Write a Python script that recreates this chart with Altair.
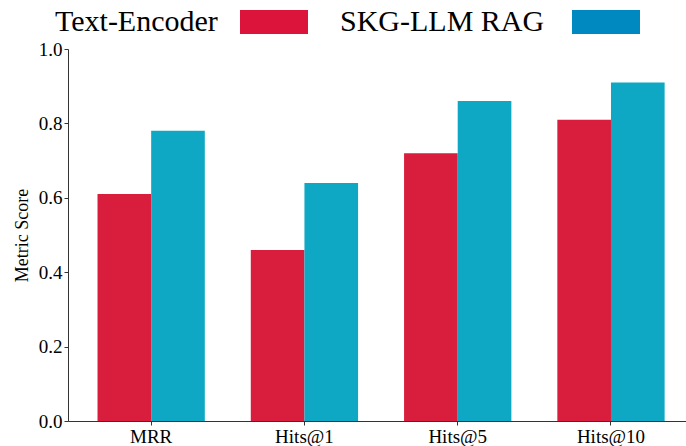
import altair as alt
import pandas as pd

metrics = ["MRR", "Hits@1", "Hits@5", "Hits@10"]
series = ["Text-Encoder", "SKG-LLM RAG"]
text_encoder = [0.61, 0.46, 0.72, 0.81]
skg_rag = [0.78, 0.64, 0.86, 0.91]
y_ticks = [0.0, 0.2, 0.4, 0.6, 0.8, 1.0]

bar_colors = ["#D81E3C", "#0EA8C4"]
legend_colors = ["#DC143C", "#0088C0"]

rows = []
for m, a, b in zip(metrics, text_encoder, skg_rag):
    rows.append({"metric": m, "series": series[0], "value": a})
    rows.append({"metric": m, "series": series[1], "value": b})
df = pd.DataFrame(rows)

FONT = "Liberation Serif"

axis_style = dict(
    labelFont=FONT, labelFontSize=19, labelColor="black",
    titleFont=FONT, titleFontSize=18, titleFontWeight="normal", titleColor="black",
    tickSize=4, tickColor="#333", domainColor="#333", labelPadding=2, titlePadding=7,
    grid=False,
)

bars = alt.Chart(df).mark_bar().encode(
    x=alt.X("metric:N", sort=metrics,
            scale=alt.Scale(paddingInner=0.3, paddingOuter=0.166, align=0.58),
            axis=alt.Axis(title=None, labelAngle=0, **axis_style)),
    xOffset=alt.XOffset("series:N", sort=series, scale=alt.Scale(paddingInner=0, paddingOuter=0)),
    y=alt.Y("value:Q", scale=alt.Scale(domain=[0, 1], nice=False),
            axis=alt.Axis(title="Metric Score", values=y_ticks, format=".1f", **axis_style)),
    color=alt.Color("series:N", sort=series,
                    scale=alt.Scale(domain=series, range=bar_colors), legend=None),
)

base = alt.Chart(pd.DataFrame({"k": [0]}))
leg_t1 = base.mark_text(align="left", baseline="alphabetic", font=FONT, fontSize=30, color="black").encode(
    x=alt.value(-13), y=alt.value(-18), text=alt.value(series[0]))
leg_r1 = base.mark_rect(color=legend_colors[0]).encode(
    x=alt.value(172), x2=alt.value(240), y=alt.value(-39), y2=alt.value(-15))
leg_t2 = base.mark_text(align="left", baseline="alphabetic", font=FONT, fontSize=30, color="black").encode(
    x=alt.value(272), y=alt.value(-18), text=alt.value(series[1]))
leg_r2 = base.mark_rect(color=legend_colors[1]).encode(
    x=alt.value(504), x2=alt.value(572), y=alt.value(-39), y2=alt.value(-15))

chart = alt.layer(bars, leg_t1, leg_r1, leg_t2, leg_r2).properties(
    width=618, height=372,
    padding={"left": 68, "top": 49, "right": 0, "bottom": 25},
    autosize="none",
    background="white",
).configure_view(stroke=None).configure_axis(**axis_style)

chart.save("out.html", embed_options={"renderer": "svg", "actions": False})
